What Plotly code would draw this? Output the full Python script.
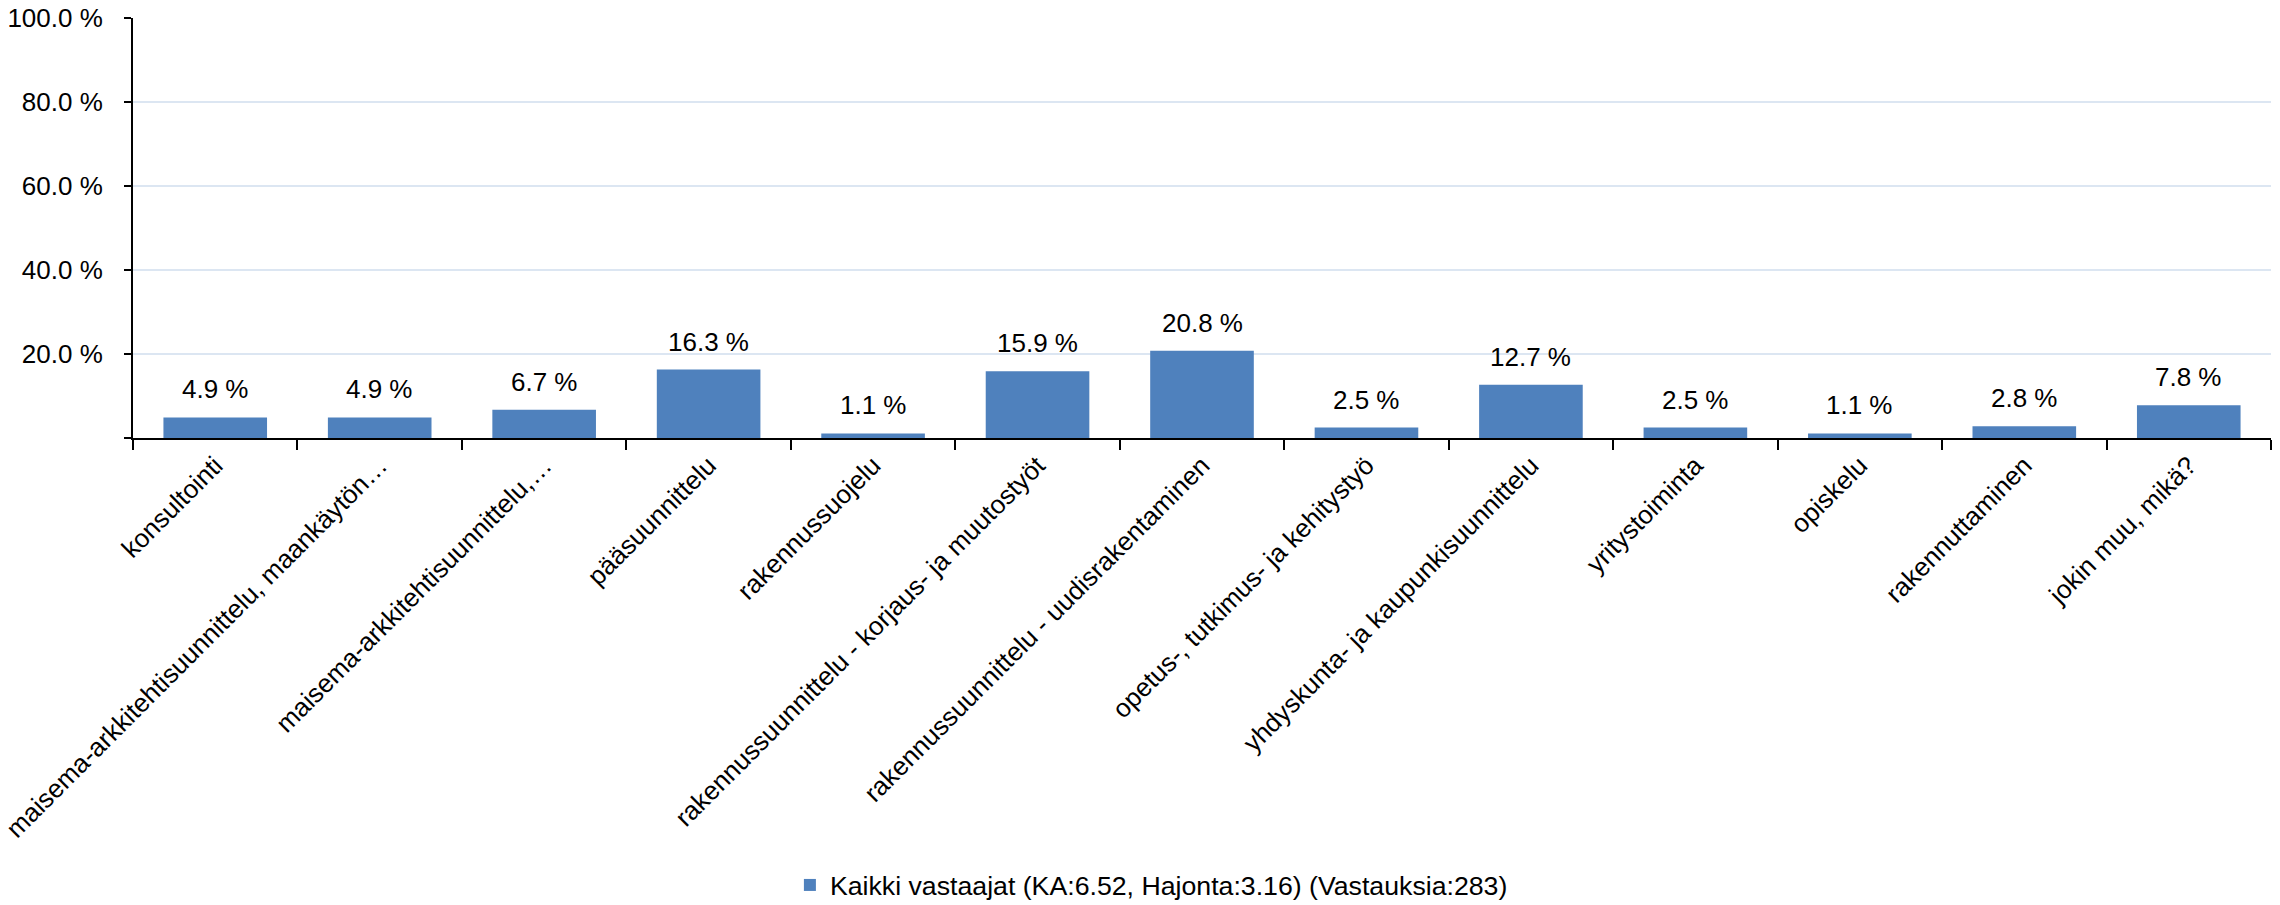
import plotly.graph_objects as go

categories = [
    "konsultointi",
    "maisema-arkkitehtisuunnittelu, maankäytön…",
    "maisema-arkkitehtisuunnittelu,…",
    "pääsuunnittelu",
    "rakennussuojelu",
    "rakennussuunnittelu - korjaus- ja muutostyöt",
    "rakennussuunnittelu - uudisrakentaminen",
    "opetus-, tutkimus- ja kehitystyö",
    "yhdyskunta- ja kaupunkisuunnittelu",
    "yritystoiminta",
    "opiskelu",
    "rakennuttaminen",
    "jokin muu, mikä?",
]
values = [4.9, 4.9, 6.7, 16.3, 1.1, 15.9, 20.8, 2.5, 12.7, 2.5, 1.1, 2.8, 7.8]
series_name = "Kaikki vastaajat (KA:6.52, Hajonta:3.16) (Vastauksia:283)"
y_tickvals = [0, 20, 40, 60, 80, 100]
y_ticktext = ["", "20.0 %", "40.0 %", "60.0 %", "80.0 %", "100.0 %"]

FONT = "Liberation Sans, Arial, sans-serif"
BAR = "#4f81bd"

fig = go.Figure()
fig.add_trace(go.Bar(
    x=categories, y=values, name=series_name,
    marker=dict(color=BAR, line=dict(width=0)),
    showlegend=True,
))

for c, v in zip(categories, values):
    fig.add_annotation(
        x=c, y=v, xref="x", yref="y", text=f"{v:.1f} %",
        showarrow=False, yanchor="bottom", yshift=11,
        font=dict(family=FONT, size=26, color="#000000"),
    )

fig.update_layout(
    width=2280, height=905,
    margin=dict(l=133, r=9, t=18, b=467),
    paper_bgcolor="white", plot_bgcolor="white",
    bargap=0.37,
    font=dict(family=FONT, size=26, color="#000000"),
    legend=dict(
        orientation="h", xref="container", yref="container",
        x=0.505, xanchor="center", y=0.022, yanchor="middle",
        font=dict(family=FONT, size=26.7, color="#000000"),
        itemwidth=30,
    ),
)
fig.update_xaxes(
    type="category", range=[-0.5, len(categories) - 0.5],
    automargin=False,
    showline=True, linecolor="#000000", linewidth=2,
    ticks="outside", ticklen=10, tickwidth=2, tickcolor="#000000",
    tickson="boundaries",
    tickangle=-45, ticklabelshift=0, ticklabelstandoff=0,
    tickfont=dict(family=FONT, size=26, color="#000000"),
    showgrid=False,
)
fig.update_yaxes(
    range=[0, 100], tickvals=y_tickvals, ticktext=y_ticktext,
    automargin=False,
    showline=True, linecolor="#000000", linewidth=2,
    ticks="outside", ticklen=7, tickwidth=2, tickcolor="#000000",
    ticklabelstandoff=16,
    tickfont=dict(family=FONT, size=26, color="#000000"),
    showgrid=True, gridcolor="#dce6f2", gridwidth=2,
    zeroline=False,
)

fig.write_html(
    "out.html",
    config={"displayModeBar": False},
    post_script="document.body.style.margin='0';document.body.style.padding='0';",
)
